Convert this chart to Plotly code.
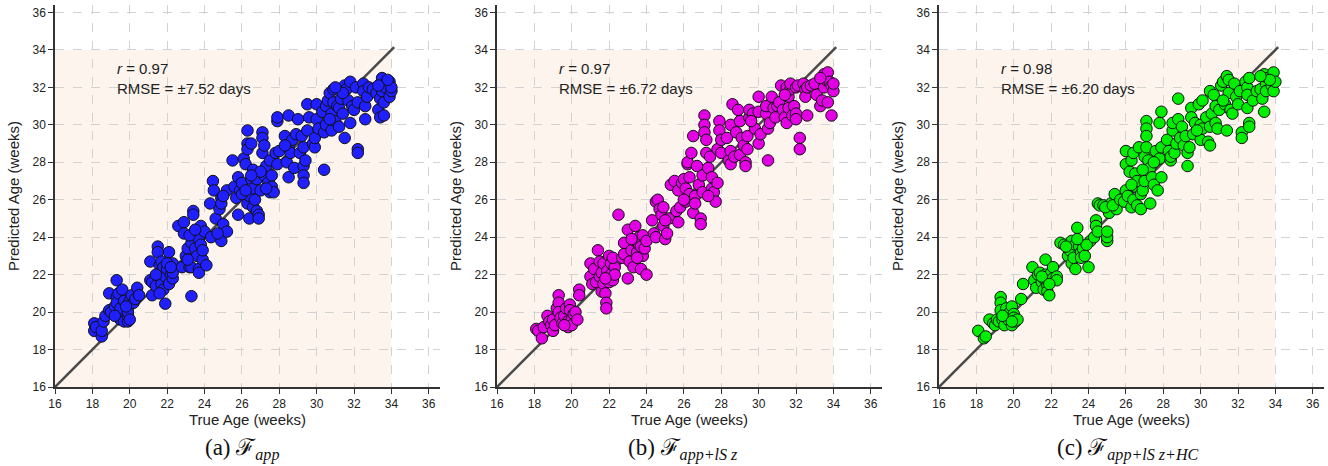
import plotly.graph_objects as go

# ---------------- data (weeks) ----------------
a_x = [18.1,18.1,18.2,18.5,18.5,18.6,18.7,18.9,18.9,19.0,19.2,19.3,19.3,19.3,19.4,19.5,19.5,19.5,19.6,19.7,19.7,19.9,19.9,19.9,20.0,20.1,20.2,20.3,20.4,20.5,19.8,19.2,20.0,
       21.1,21.1,21.2,21.2,21.4,21.5,21.5,21.6,21.6,21.7,21.7,21.8,21.8,21.9,21.9,22.0,22.1,22.1,22.2,22.3,22.3,22.3,21.6,22.0,21.4,22.2,
       22.6,22.8,22.9,22.9,23.0,23.1,23.2,23.3,23.3,23.3,23.4,23.4,23.5,23.6,23.7,23.7,23.7,23.8,23.8,23.9,24.0,24.1,23.2,23.5,23.9,23.1,
       24.3,24.35,24.45,24.5,24.6,24.8,24.9,24.9,24.9,25.0,25.2,25.2,25.5,24.7,25.0,
       25.6,25.7,25.8,25.8,25.9,26.0,26.1,26.2,26.3,26.3,26.3,26.3,26.4,26.4,26.5,26.5,26.6,26.6,26.6,26.7,26.8,26.8,26.9,26.9,27.0,27.1,27.1,27.1,27.2,27.2,27.3,27.4,27.5,27.5,27.6,27.6,27.7,27.8,27.9,27.9,27.9,26.0,26.2,27.0,27.3,26.5,
       28.3,28.4,28.5,28.5,28.5,28.6,28.7,28.8,28.9,29.0,29.1,29.2,29.3,29.3,29.3,29.3,29.4,29.5,29.5,29.6,29.8,29.9,29.9,30.0,30.0,30.1,28.0,28.3,
       30.3,30.4,30.4,30.5,30.5,30.6,30.7,30.8,30.8,30.9,30.9,31.0,31.1,31.2,31.2,31.3,31.4,31.5,31.5,31.6,31.7,31.8,31.8,31.9,32.0,32.1,32.2,32.2,32.2,31.4,30.7,31.0,
       32.5,32.5,32.6,32.6,32.7,32.8,33.0,33.2,33.3,33.4,33.4,33.5,33.5,33.5,33.6,33.6,33.7,33.9,33.9,34.0,34.0,33.8,33.3]
a_y = [19.4,19.0,19.2,18.7,19.0,19.5,19.8,20.1,21.0,20.0,20.3,21.7,20.8,20.5,21.0,19.6,19.9,20.2,21.2,20.6,19.5,19.5,19.8,20.0,20.6,20.9,20.5,20.7,21.3,20.9,20.3,19.8,19.6,
       22.7,21.7,21.6,20.9,21.4,23.5,23.2,22.5,22.1,21.5,22.7,22.4,21.2,20.45,21.9,22.3,23.2,21.5,22.0,22.6,21.8,22.1,21.0,22.6,22.0,22.4,
       24.6,22.4,24.8,24.2,23.0,23.4,22.4,20.85,22.4,23.7,25.4,25.2,23.4,23.0,22.3,22.1,23.9,24.6,23.6,22.8,24.3,22.5,24.1,24.4,23.3,22.8,
       25.8,24.0,27.0,26.5,25.0,25.5,26.1,23.8,25.8,24.7,24.3,26.5,28.1,24.2,26.2,
       26.7,26.1,27.2,25.2,26.5,26.9,28.2,27.9,29.7,29.0,28.7,25.8,26.2,25.0,29.0,27.1,27.6,25.6,26.6,26.0,25.4,27.1,25.2,25.0,26.5,29.6,29.3,28.5,28.9,27.3,27.8,26.9,28.1,26.4,26.7,27.3,26.4,28.5,30.2,30.4,27.9,26.3,26.5,27.5,26.6,27.3,
       29.4,28.0,30.5,28.8,27.2,28.5,29.2,27.7,29.5,30.3,28.5,29.4,28.8,27.8,27.3,26.9,28.1,29.7,31.1,30.4,29.0,28.8,29.3,30.3,31.1,29.8,28.6,28.9,
       30.7,29.6,27.6,31.0,30.0,31.3,31.7,30.6,29.7,31.9,31.2,30.2,31.0,30.9,29.9,31.4,30.6,32.1,29.3,31.9,31.3,32.3,30.1,31.0,30.8,32.0,31.2,28.7,28.5,31.7,30.3,32.0,
       32.2,31.8,31.0,30.3,31.5,32.0,31.9,31.7,30.8,30.4,31.4,32.5,32.1,31.8,30.5,31.2,32.0,32.3,31.5,31.8,32.0,32.4,32.1]

b_x = [18.1,18.2,18.4,18.5,18.7,18.8,18.9,19.0,19.0,19.1,19.2,19.3,19.3,19.3,19.4,19.5,19.6,19.7,19.8,19.8,19.9,19.9,20.0,20.0,20.1,20.2,20.3,20.4,20.4,19.6,
       21.0,21.0,21.1,21.2,21.3,21.4,21.5,21.5,21.6,21.6,21.7,21.7,21.8,21.85,21.85,21.9,22.0,22.0,22.1,22.1,22.2,22.3,22.3,22.5,21.8,22.2,
       22.7,22.8,22.8,23.0,23.0,23.1,23.2,23.3,23.4,23.4,23.5,23.6,23.6,23.7,23.7,23.8,23.8,23.9,24.0,24.0,23.2,23.5,
       24.3,24.4,24.5,24.5,24.6,24.7,24.8,24.9,24.9,25.0,25.1,25.2,25.3,25.5,25.0,
       25.6,25.7,25.7,25.8,25.9,26.0,26.1,26.1,26.2,26.2,26.3,26.4,26.5,26.5,26.6,26.6,26.7,26.8,26.9,26.9,27.0,27.0,27.1,27.1,27.1,27.2,27.2,27.3,27.4,27.5,27.5,27.6,27.7,27.8,27.8,27.9,27.9,26.3,27.3,26.0,
       28.0,28.0,28.3,28.4,28.5,28.5,28.5,28.6,28.7,28.8,28.9,29.0,29.0,29.1,29.2,29.3,29.3,29.4,29.4,29.5,29.5,29.7,29.8,30.0,30.0,30.0,30.1,29.6,
       30.4,30.4,30.5,30.5,30.6,30.7,30.8,30.9,31.0,31.1,31.2,31.3,31.4,31.5,31.5,31.6,31.6,31.7,31.7,31.8,31.9,32.0,32.0,32.0,32.1,32.2,32.2,31.4,
       32.4,32.5,32.5,32.6,32.6,32.8,33.0,33.1,33.3,33.4,33.5,33.5,33.6,33.7,33.7,33.8,33.9,33.9,34.0,34.0,33.3]
b_y = [19.1,19.0,18.6,19.2,19.8,19.5,19.3,19.6,19.0,19.3,20.2,20.9,20.5,20.0,19.7,19.4,19.8,20.2,19.5,19.2,20.4,20.1,19.6,19.3,19.9,20.0,19.6,21.2,20.9,19.3,
       22.6,21.9,21.5,22.3,21.6,23.3,22.7,21.9,22.1,21.1,22.6,21.5,21.0,20.5,20.2,22.2,21.6,23.0,22.0,22.6,21.7,22.4,22.0,25.2,21.8,22.9,
       22.9,23.1,23.7,24.4,21.8,22.7,23.3,22.4,24.6,23.8,23.2,23.6,24.0,22.3,23.5,24.1,23.0,23.4,22.0,23.8,23.9,22.9,
       24.9,24.2,25.9,24.0,26.0,25.5,25.2,25.6,24.6,23.9,24.2,25.0,26.8,27.0,24.9,
       25.4,26.5,24.8,25.6,26.9,27.1,25.9,26.6,27.9,28.0,26.3,28.5,29.4,25.3,26.2,25.8,27.8,26.8,25.0,24.7,26.4,27.3,30.5,30.0,29.6,29.2,28.5,27.7,28.3,26.6,27.2,26.4,25.9,26.9,28.7,30.2,29.7,27.2,26.2,26.0,
       28.5,29.2,29.3,28.1,28.6,27.9,30.0,31.1,28.3,29.6,30.8,30.2,28.4,29.3,28.9,28.0,27.8,28.7,29.4,30.4,30.8,30.6,29.8,29.0,30.7,31.5,29.5,30.2,
       30.6,31.0,28.1,29.8,30.1,31.5,30.9,30.4,31.0,31.2,32.1,30.8,30.4,30.1,32.0,31.5,30.9,31.9,32.2,30.5,31.0,32.0,30.6,30.3,32.1,29.3,28.7,31.6,
       32.2,31.9,31.5,30.5,32.0,32.1,32.2,31.6,31.0,31.3,32.7,32.0,32.4,31.2,32.8,32.3,30.5,32.1,31.8,32.2,32.5]

c_x = [18.1,18.4,18.5,18.7,18.9,19.0,19.1,19.2,19.3,19.3,19.3,19.4,19.5,19.6,19.6,19.7,19.8,19.9,19.9,20.0,20.0,20.1,20.2,20.4,20.5,19.4,19.9,
       21.0,21.1,21.2,21.3,21.4,21.5,21.6,21.6,21.7,21.7,21.8,21.8,21.9,22.0,22.1,22.1,22.3,22.3,21.5,21.9,
       22.5,22.7,22.9,23.0,23.1,23.1,23.2,23.3,23.3,23.4,23.5,23.6,23.6,23.7,23.8,24.0,24.1,23.9,23.4,22.8,
       24.3,24.4,24.4,24.5,24.5,24.6,24.8,25.0,25.0,25.0,25.1,25.2,25.4,25.5,24.9,25.3,
       25.7,25.9,26.0,26.0,26.0,26.1,26.2,26.3,26.3,26.4,26.4,26.5,26.5,26.6,26.6,26.7,26.8,26.8,26.9,27.0,27.0,27.1,27.1,27.1,27.1,27.2,27.3,27.3,27.4,27.5,27.6,27.7,27.8,27.8,27.9,27.9,27.9,26.3,26.9,27.5,
       28.2,28.3,28.4,28.4,28.5,28.5,28.6,28.7,28.8,28.8,28.9,29.0,29.1,29.2,29.3,29.3,29.4,29.5,29.5,29.6,29.7,29.9,30.0,30.0,30.1,30.1,29.8,
       30.3,30.4,30.5,30.5,30.5,30.6,30.7,30.8,30.8,30.9,31.0,31.1,31.2,31.3,31.4,31.4,31.5,31.5,31.6,31.7,31.8,31.9,32.0,32.2,32.2,32.1,31.2,
       32.4,32.5,32.5,32.5,32.6,32.6,32.6,32.8,33.0,33.2,33.3,33.4,33.4,33.5,33.5,33.6,33.8,33.9,33.9,34.0,33.7,33.2]
c_y = [19.0,18.6,18.7,19.6,19.4,19.3,19.6,19.5,20.8,20.5,20.1,19.6,19.3,19.9,20.2,19.6,20.0,19.3,20.3,19.9,19.7,19.5,19.6,20.7,21.5,19.8,19.5,
       22.4,21.7,21.3,22.0,22.1,21.6,21.8,21.2,22.8,22.0,21.4,21.1,20.9,22.1,22.4,21.8,21.9,21.7,21.9,21.5,
       23.7,23.6,23.0,23.3,23.8,22.6,22.9,22.3,23.6,24.5,23.5,23.2,22.9,23.4,23.0,22.4,23.8,23.6,23.9,23.5,
       24.0,24.9,24.6,24.3,25.8,25.7,25.7,23.8,24.0,24.3,25.3,25.8,26.3,25.5,25.6,25.7,
       26.0,25.9,28.6,27.9,26.5,26.2,27.5,28.1,25.6,26.0,28.5,27.4,26.7,25.7,27.0,28.8,26.3,25.5,26.5,28.3,27.0,30.2,29.8,29.4,28.8,28.1,27.7,25.8,27.2,26.8,28.6,26.5,28.2,30.1,30.7,27.2,28.8,26.8,27.6,28.0,
       29.2,28.6,28.1,28.3,29.7,30.1,28.5,29.0,31.4,30.3,29.3,29.9,28.9,29.4,28.5,27.8,28.8,30.9,30.4,29.5,30.1,31.1,29.2,30.0,31.3,29.8,29.7,
       30.4,29.1,28.9,29.9,31.8,30.6,31.6,30.1,31.0,29.8,30.8,32.1,32.3,31.1,29.7,32.6,31.7,32.4,30.8,30.6,32.2,31.5,31.1,29.6,29.3,31.8,31.3,
       32.3,32.0,31.6,30.9,30.1,29.9,32.5,31.3,31.8,31.9,31.4,32.7,30.7,32.2,31.8,32.5,32.1,32.8,31.8,32.3,32.4,32.6]

panels = [
    dict(x=a_x, y=a_y, color="#1f1fff", r="0.97", rmse="±7.52", caption="(a) ℱ<sub><i>app</i></sub>"),
    dict(x=b_x, y=b_y, color="#e400e4", r="0.97", rmse="±6.72", caption="(b) ℱ<sub><i>app+lS z</i></sub>"),
    dict(x=c_x, y=c_y, color="#00ee00", r="0.98", rmse="±6.20", caption="(c) ℱ<sub><i>app+lS z+HC</i></sub>"),
]
ticks = [16, 18, 20, 22, 24, 26, 28, 30, 32, 34, 36]
identity = [16, 34.15]
shade = [16, 34]

# ---------------- layout ----------------
W, H = 1328, 466
x_px = [(55, 440), (497, 882), (939, 1324)]
y_px = (5, 387)
caption_cx = [242, 683, 1128]

fig = go.Figure()
layout = dict(width=W, height=H, margin=dict(l=0, r=0, t=0, b=0, autoexpand=False),
              paper_bgcolor="white", plot_bgcolor="white", showlegend=False,
              font=dict(family="Liberation Sans, Arial, sans-serif", color="#222"))
shapes, annotations = [], []

for i, p in enumerate(panels):
    sfx = "" if i == 0 else str(i + 1)
    xa, ya = "x" + sfx, "y" + sfx
    axis_common = dict(
        tickvals=ticks, ticks="outside", ticklen=5, tickwidth=1, tickcolor="#333",
        showline=True, linecolor="#333", linewidth=1.5,
        showgrid=True, gridcolor="#d2d2d2", griddash="dash", gridwidth=1,
        zeroline=False, tickfont=dict(size=12, color="#222"), automargin=False,
    )
    layout["xaxis" + sfx] = dict(
        axis_common, domain=[x_px[i][0] / W, x_px[i][1] / W], range=[16, 36.6],
        anchor=ya,
        title=dict(text="True Age (weeks)", font=dict(size=15, color="#222"), standoff=3),
    )
    layout["yaxis" + sfx] = dict(
        axis_common, domain=[(H - y_px[1]) / H, (H - y_px[0]) / H], range=[16, 36.4],
        anchor=xa,
        title=dict(text="Predicted Age (weeks)", font=dict(size=15, color="#222"), standoff=9),
    )
    shapes.append(dict(type="rect", xref=xa, yref=ya, x0=shade[0], x1=shade[1],
                       y0=shade[0], y1=shade[1], fillcolor="#fdf4ed",
                       line=dict(width=0), layer="below"))
    fig.add_trace(go.Scatter(x=identity, y=identity, mode="lines", xaxis=xa, yaxis=ya,
                             line=dict(color="#4a4a4a", width=2.5), hoverinfo="skip"))
    fig.add_trace(go.Scatter(x=p["x"], y=p["y"], mode="markers", xaxis=xa, yaxis=ya,
                             marker=dict(size=11.5, color=p["color"],
                                         line=dict(color="#111", width=1))))
    annotations.append(dict(
        xref=xa, yref=ya, x=19.2, y=32.45, xanchor="left", yanchor="middle", align="left",
        showarrow=False, font=dict(size=15, color="#222"),
        text=f"<i>r</i> = {p['r']}<br>RMSE = {p['rmse']} days"))
    annotations.append(dict(
        xref="paper", yref="paper", x=caption_cx[i] / W, y=(H - 449) / H,
        xanchor="center", yanchor="middle", showarrow=False,
        font=dict(family="Liberation Serif, Times New Roman, serif", size=23, color="#111"),
        text=p["caption"]))

layout["shapes"] = shapes
layout["annotations"] = annotations
fig.update_layout(**layout)
fig.write_html("out.html")
